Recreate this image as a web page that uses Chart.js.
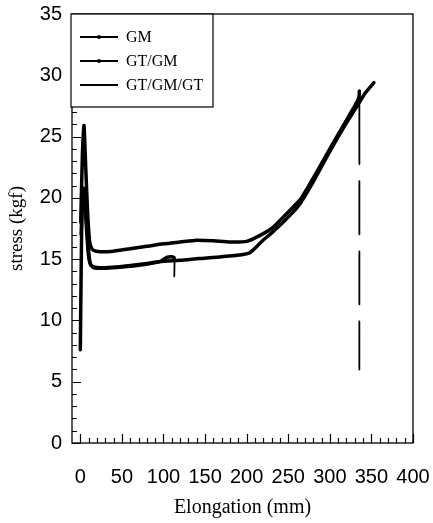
<!DOCTYPE html>
<html lang="en">
<head>
<meta charset="UTF-8">
<title>Stress vs Elongation</title>
<script src="https://cdn.jsdelivr.net/npm/chart.js"></script>
<style>
  body { margin: 0; background: #fff; }
  #wrap { width: 433px; height: 523px; }
</style>
</head>
<body>
<div id="wrap"><canvas id="stressChart" width="433" height="523"></canvas></div>
<script>
// legend names
var seriesNames = ['GM', 'GT/GM', 'GT/GM/GT'];

// GM - lower plateau, breaks near 113 mm
var gmX = [1, 3, 5, 7, 9.5, 12, 16, 30, 50, 75, 96, 104, 110, 113, 113];
var gmY = [17, 20.5, 20.2, 18, 15.5, 14.6, 14.3, 14.25, 14.35, 14.55, 14.8, 15.15, 15.2, 15.1, 13.6];

// GT/GM - lower plateau, runs to the end
var gtgmX = [0, 1, 2, 3.5, 5, 7, 9, 11, 13, 18, 30, 50, 75, 96, 120, 143, 170, 203, 219, 231, 245, 258, 265, 280, 300, 318, 332, 342, 353];
var gtgmY = [7.6, 14, 19, 20.8, 20.5, 18.5, 16.5, 15, 14.5, 14.35, 14.3, 14.4, 14.6, 14.8, 14.9, 15.05, 15.2, 15.5, 16.5, 17.2, 18.1, 19.0, 19.6, 21.3, 23.8, 25.9, 27.4, 28.5, 29.4];

// GT/GM/GT - upper plateau, drops at ~335 mm
var gtgmgtX = [0.5, 2.5, 4.4, 6.5, 9, 11.5, 15, 25, 40, 60, 80, 100, 120, 140, 160, 180, 200, 215, 230, 245, 258, 265, 280, 300, 318, 330, 335, 335.5, 335.5];
var gtgmgtY = [18, 23.5, 25.9, 22.5, 18.5, 16.3, 15.75, 15.6, 15.65, 15.85, 16.05, 16.25, 16.4, 16.55, 16.5, 16.4, 16.45, 16.9, 17.5, 18.5, 19.4, 19.9, 21.6, 24.0, 26.1, 27.5, 28.2, 28.7, 6.0];

var xTickValues = [0, 50, 100, 150, 200, 250, 300, 350, 400];
var yTickValues = [0, 5, 10, 15, 20, 25, 30, 35];

function toPoints(xs, ys) {
    return xs.map(function(x, i) { return { x: x, y: ys[i] }; });
}

// a vertical step (same x) is the break line: thinner, dashed for the long one
function breakSegment(dash) {
    return {
        borderWidth: function(c) { return c.p0.parsed.x === c.p1.parsed.x ? 1.8 : undefined; },
        borderDash: function(c) { return c.p0.parsed.x === c.p1.parsed.x ? dash : undefined; }
    };
}

// no extra room for half labels, the layout padding handles it
function noLabelPadding(s) {
    s.paddingTop = 0;
    s.paddingBottom = 0;
    s.paddingLeft = 0;
    s.paddingRight = 0;
}

// box round the plot and inward tick marks on the left and bottom
var frameAndTicks = {
    id: 'frameAndTicks',
    afterDraw: function(chart) {
        var ctx = chart.ctx;
        var a = chart.chartArea;
        var xs = chart.scales.x, ys = chart.scales.y;
        ctx.save();
        ctx.strokeStyle = '#000';
        ctx.lineWidth = 1.3;
        ctx.strokeRect(a.left, a.top, a.right - a.left, a.bottom - a.top);

        ctx.lineWidth = 1.2;
        ctx.beginPath();
        for (var v = 0; v <= 400; v += 10) {
            var px = Math.round(xs.getPixelForValue(v)) + 0.5;
            var len = xTickValues.indexOf(v) >= 0 ? 9 : 5;
            ctx.moveTo(px, a.bottom);
            ctx.lineTo(px, a.bottom - len);
        }
        for (var w = 0; w <= 35; w += 1) {
            var py = Math.round(ys.getPixelForValue(w)) + 0.5;
            var l2 = yTickValues.indexOf(w) >= 0 ? 9 : 5;
            ctx.moveTo(a.left, py);
            ctx.lineTo(a.left + l2, py);
        }
        ctx.stroke();

        // legend box in the top-left corner
        var bx = a.left - 1, by = a.top, bw = 142, bh = 93;
        ctx.fillStyle = '#fff';
        ctx.fillRect(bx, by, bw, bh);
        ctx.lineWidth = 1.2;
        ctx.strokeRect(bx, by, bw, bh);
        ctx.font = '16px "Liberation Serif", "Times New Roman", serif';
        ctx.textBaseline = 'middle';
        ctx.fillStyle = '#000';
        chart.data.datasets.forEach(function(ds, i) {
            var ry = by + 23 + i * 24;
            ctx.lineWidth = 2;
            ctx.beginPath();
            ctx.moveTo(bx + 9, ry);
            ctx.lineTo(bx + 47, ry);
            ctx.stroke();
            if (i < 2) {
                ctx.beginPath();
                ctx.arc(bx + 28, ry, 2, 0, Math.PI * 2);
                ctx.fill();
            }
            ctx.fillText(ds.label, bx + 55, ry + 1);
        });
        ctx.restore();
    }
};

var ctx = document.getElementById('stressChart').getContext('2d');
var stressChart = new Chart(ctx, {
    type: 'scatter',
    data: {
        datasets: [{
            label: seriesNames[0],
            data: toPoints(gmX, gmY),
            segment: breakSegment(undefined)
        }, {
            label: seriesNames[1],
            data: toPoints(gtgmX, gtgmY)
        }, {
            label: seriesNames[2],
            data: toPoints(gtgmgtX, gtgmgtY),
            segment: breakSegment([73, 17, 53, 17, 53, 17, 53, 17])
        }]
    },
    plugins: [frameAndTicks],
    options: {
        responsive: false,
        animation: false,
        devicePixelRatio: 1,
        layout: { padding: { left: 0, right: 20, top: 14, bottom: 0 } },
        elements: {
            line: { borderColor: '#000', borderWidth: 3.5, tension: 0.2, fill: false, borderCapStyle: 'round', borderJoinStyle: 'round' },
            point: { radius: 0, hoverRadius: 0 }
        },
        datasets: { scatter: { showLine: true, borderColor: '#000', backgroundColor: '#000' } },
        plugins: {
            legend: { display: false },
            tooltip: { enabled: false }
        },
        scales: {
            x: {
                type: 'linear',
                min: -10,
                max: 400,
                afterFit: function(s) { s.height = 80; noLabelPadding(s); },
                afterBuildTicks: function(s) { s.ticks = xTickValues.map(function(v) { return { value: v }; }); },
                grid: { display: false, drawTicks: false },
                border: { display: false },
                ticks: {
                    color: '#000',
                    padding: 22,
                    maxRotation: 0,
                    autoSkip: false,
                    font: { family: '"Liberation Sans", Arial, sans-serif', size: 20 }
                },
                title: {
                    display: true,
                    text: 'Elongation (mm)',
                    color: '#000',
                    padding: { top: 0, bottom: 3 },
                    font: { family: '"Liberation Serif", "Times New Roman", serif', size: 20 }
                }
            },
            y: {
                type: 'linear',
                min: 0,
                max: 35,
                afterFit: function(s) { s.width = 72; noLabelPadding(s); },
                afterBuildTicks: function(s) { s.ticks = yTickValues.map(function(v) { return { value: v }; }); },
                grid: { display: false, drawTicks: false },
                border: { display: false },
                ticks: {
                    color: '#000',
                    padding: 10,
                    autoSkip: false,
                    font: { family: '"Liberation Sans", Arial, sans-serif', size: 20 }
                },
                title: {
                    display: true,
                    text: 'stress (kgf)',
                    color: '#000',
                    padding: { top: 6, bottom: 0 },
                    font: { family: '"Liberation Serif", "Times New Roman", serif', size: 19 }
                }
            }
        }
    }
});
</script>
</body>
</html>
